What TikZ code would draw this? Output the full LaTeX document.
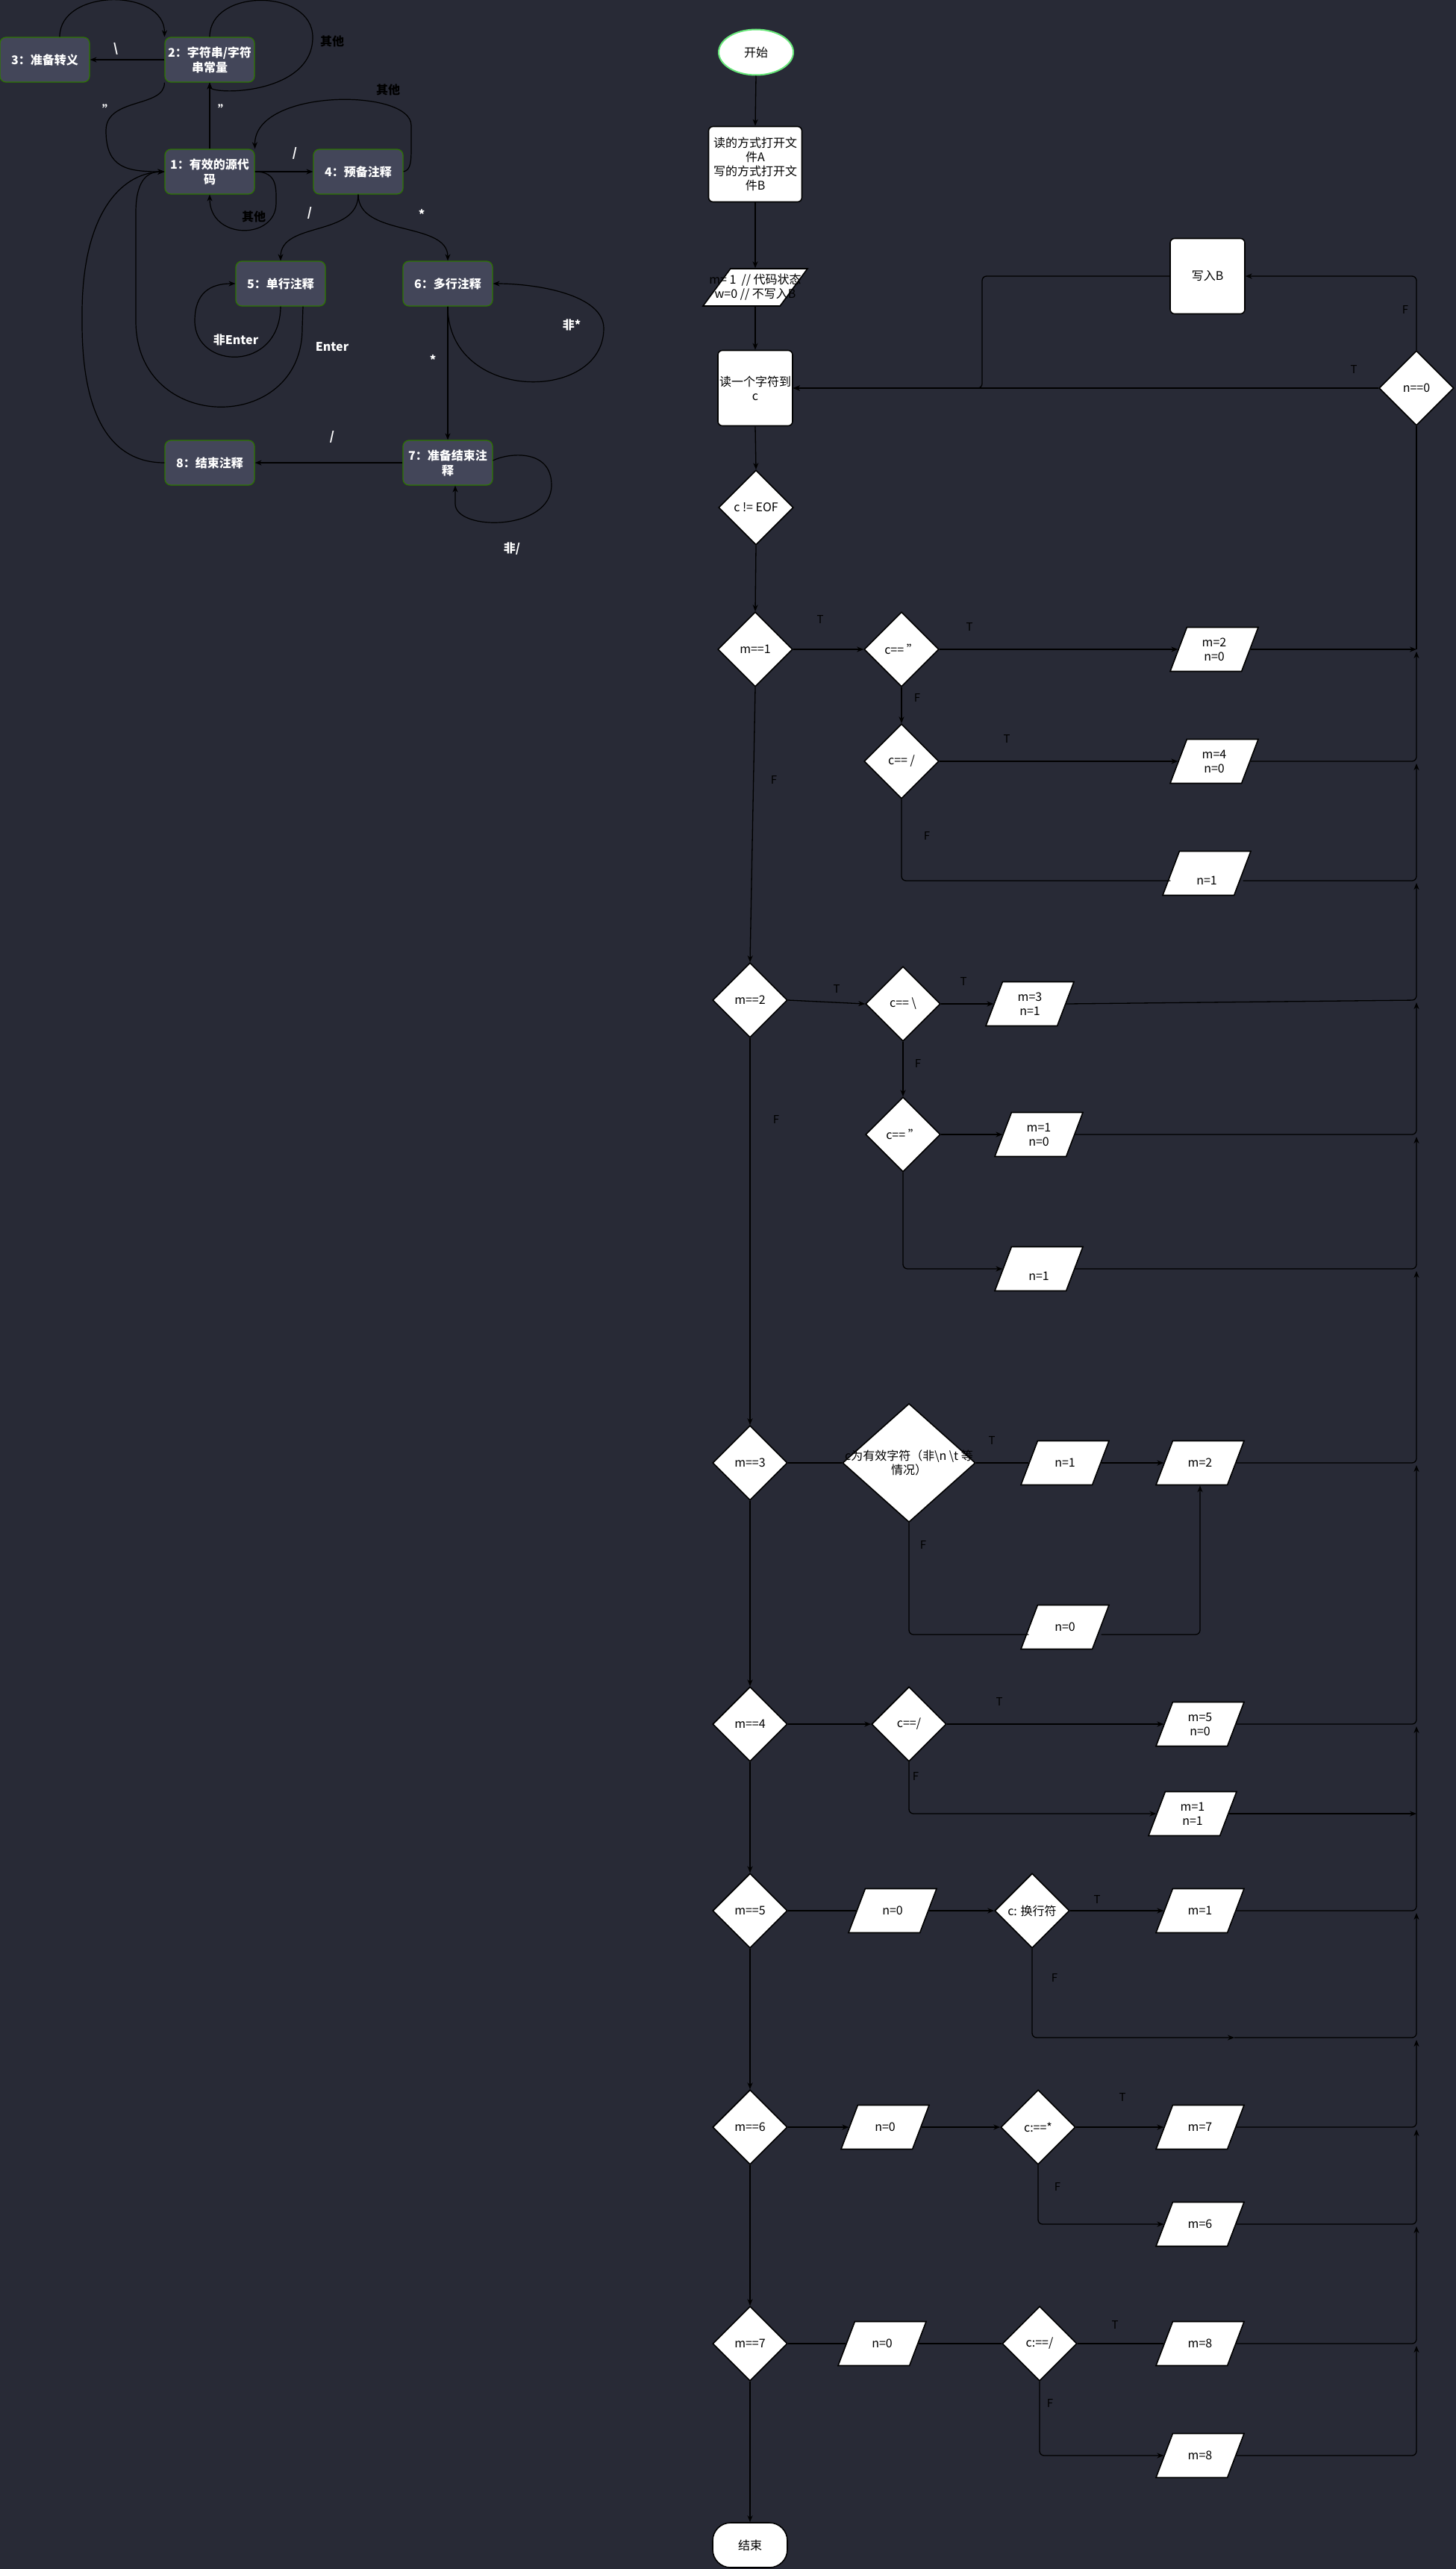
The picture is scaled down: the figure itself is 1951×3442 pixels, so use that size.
\documentclass[tikz,border=0pt]{standalone}
\usepackage{fontspec}
\setmainfont{Noto Sans CJK SC}
\usetikzlibrary{shapes.geometric,arrows.meta}
\definecolor{bg}{RGB}{40,42,54}
\definecolor{smfill}{RGB}{67,70,89}
\definecolor{smborder}{RGB}{45,118,0}
\definecolor{startg}{RGB}{102,230,120}
\begin{document}
\begin{tikzpicture}[x=1pt,y=-1pt,
  txt/.style={text=black, align=center, font=\fontsize{16pt}{19pt}\selectfont, inner sep=0pt},
  dia/.style={diamond, draw=black, fill=white, line width=1.6pt, minimum width=100pt, minimum height=100pt, inner sep=0pt, shape aspect=1},
  para/.style={trapezium, trapezium left angle=73, trapezium right angle=107, trapezium stretches=true, draw=black, fill=white, line width=1.6pt, minimum width=118pt, minimum height=59pt, inner sep=2pt},
  fbox/.style={rectangle, rounded corners=6pt, draw=black, fill=white, line width=1.6pt, minimum width=100pt, minimum height=101pt, inner sep=0pt},
  term/.style={rectangle, rounded corners=24pt, draw=black, fill=white, line width=1.6pt, minimum width=100pt, minimum height=60pt, inner sep=0pt},
  startn/.style={ellipse, draw=startg, fill=white, line width=2pt, minimum width=100pt, minimum height=61pt, inner sep=0pt},
  sm/.style={rectangle, rounded corners=8pt, draw=smborder, fill=smfill, line width=1.2pt, minimum width=120pt, minimum height=60pt, inner sep=0pt, text=white, align=center, font=\bfseries\fontsize{16pt}{20pt}\selectfont},
  wl/.style={text=white, font=\bfseries\fontsize{16pt}{20pt}\selectfont, inner sep=0pt},
  bl/.style={text=black, font=\bfseries\fontsize{16pt}{20pt}\selectfont, inner sep=0pt},
  tf/.style={text=black, font=\fontsize{15pt}{18pt}\selectfont, inner sep=0pt},
  ln/.style={draw=black, line width=1.3pt},
  arr/.style={draw=black, line width=1.3pt, -{Stealth[length=9pt,width=7pt]}},
  sarr/.style={draw=black, line width=1.2pt, -{Stealth[length=9pt,width=7pt]}},
  bus/.style={arr, rounded corners=6pt},
  rln/.style={ln, rounded corners=6pt}]
\useasboundingbox (0,0) rectangle (1951,3442);
\fill[bg] (0,0) rectangle (1951,3442);

% ---------------- state machine ----------------
\node[sm] (n3) at (60,80) {3：准备转义};
\node[sm] (n2) at (281,80) {2：字符串/字符\\串常量};
\node[sm] (n1) at (281,230) {1：有效的源代\\码};
\node[sm] (n4) at (480,230) {4：预备注释};
\node[sm] (n5) at (376,380) {5：单行注释};
\node[sm] (n6) at (600,380) {6：多行注释};
\node[sm] (n8) at (281,620) {8：结束注释};
\node[sm] (n7) at (600,620) {7：准备结束注\\释};

\draw[sarr] ([xshift=20pt]n3.north) .. controls (80,-16) and (221,-16) .. (n2.north west);
\draw[sarr] (n2.west) -- (n3.east);
\draw[sarr] (n2.north) .. controls (281,-16) and (419,-16) .. (419,50) .. controls (419,128) and (281,128) .. (n2.south);
\draw[sarr] (n2.south west) .. controls (221,145) and (142,130) .. (142,175) .. controls (142,225) and (170,230) .. (n1.west);
\draw[sarr] (n1.north) -- (n2.south);
\draw[sarr] (n1.east) -- (n4.west);
\draw[sarr] (n1.east) .. controls (372,230) and (370,252) .. (370,272) .. controls (370,322) and (281,322) .. (n1.south);
\draw[sarr] (n4.east) .. controls (551,228) and (551,215) .. (551,195) -- (551,168) .. controls (551,118) and (340,118) .. (n1.north east);
\draw[sarr] (n4.south) .. controls (480,318) and (376,296) .. (n5.north);
\draw[sarr] (n4.south) .. controls (480,318) and (600,296) .. (n6.north);
\draw[sarr] (n5.south) .. controls (375,500) and (261,495) .. (261,430) .. controls (261,392) and (282,380) .. (n5.west);
\draw[sarr] ([xshift=30pt]n5.south) -- (405,440) .. controls (405,582) and (182,582) .. (182,430) -- (182,285) .. controls (182,245) and (195,230) .. (n1.west);
\draw[sarr] (n8.west) .. controls (150,620) and (110,560) .. (110,433) -- (110,420) .. controls (110,290) and (160,232) .. (n1.west);
\draw[sarr] (n6.south) .. controls (600,540) and (809,540) .. (809,440) .. controls (809,395) and (720,380) .. (n6.east);
\draw[sarr] (n6.south) -- (n7.north);
\draw[sarr] (n7.west) -- (n8.east);
\draw[sarr] ([yshift=3pt]n7.east) .. controls (680,607) and (739,600) .. (739,650) .. controls (739,712) and (610,712) .. (610,675) -- ([xshift=10pt]n7.south);

\node[wl] (l32) at (155,65) {\textbackslash};
\node[bl] (l22) at (445,55) {其他};
\node[wl] (l21) at (145,147) {"};
\node[wl] (l12) at (300,147) {"};
\node[wl] (l14) at (395,205) {/};
\node[bl] (l11) at (340,290) {其他};
\node[bl] (l41) at (520,120) {其他};
\node[wl] (l45) at (415,285) {/};
\node[wl] (l46) at (565,287) {*};
\node[wl] (l55) at (316,455) {非Enter};
\node[wl] (l51) at (445,465) {Enter};
\node[wl] (l66) at (766,435) {非*};
\node[wl] (l67) at (580,482) {*};
\node[wl] (l78) at (445,585) {/};
\node[wl] (l77) at (686,735) {非/};

% ---------------- flowchart ----------------
\node[startn, label={[txt]center:开始}] (start) at (1013,70) {};
\node[fbox, minimum width=125pt, label={[txt]center:{读的方式打开文\\件A\\写的方式打开文\\件B}}] (open) at (1012,220) {};
\node[para, trapezium left angle=61, trapezium right angle=119, minimum width=140pt, minimum height=50pt, label={[txt]center:{m= 1 \ // 代码状态\\w=0 // 不写入B}}] (init) at (1012,385) {};
\node[fbox, label={[txt]center:{读一个字符到\\c}}] (read) at (1012,520) {};
\node[dia, label={[txt]center:{c != EOF}}] (eof) at (1013,680) {};
\node[fbox, label={[txt]center:{写入B}}] (wb) at (1618,370) {};
\node[dia, label={[txt]center:{n==0}}] (nz) at (1898,520) {};

\node[dia, label={[txt]center:{m==1}}] (m1) at (1012,870) {};
\node[dia, label={[txt]center:{c== "}}] (c1a) at (1208,870) {};
\node[para, label={[txt]center:{m=2\\n=0}}] (r1a) at (1627,870) {};
\node[dia, label={[txt]center:{c== /}}] (c1b) at (1208,1020) {};
\node[para, label={[txt]center:{m=4\\n=0}}] (r1b) at (1627,1020) {};
\node[para, label={[txt,yshift=-10pt]center:{n=1}}] (r1c) at (1617,1170) {};

\node[dia, label={[txt]center:{m==2}}] (m2) at (1005,1340) {};
\node[dia, label={[txt]center:{c== \textbackslash}}] (c2a) at (1210,1345) {};
\node[para, label={[txt]center:{m=3\\n=1}}] (r2a) at (1380,1345) {};
\node[dia, label={[txt]center:{c== "}}] (c2b) at (1210,1520) {};
\node[para, label={[txt]center:{m=1\\n=0}}] (r2b) at (1392,1520) {};
\node[para, label={[txt,yshift=-10pt]center:{n=1}}] (r2c) at (1392,1700) {};

\node[dia, label={[txt]center:{m==3}}] (m3) at (1005,1960) {};
\node[dia, minimum width=178pt, minimum height=159pt, label={[txt]center:{c为有效字符（非\textbackslash n \textbackslash t 等\\情况）}}] (c3) at (1218,1960) {};
\node[para, label={[txt]center:{n=1}}] (r3a) at (1427,1960) {};
\node[para, label={[txt]center:{m=2}}] (r3b) at (1608,1960) {};
\node[para, label={[txt]center:{n=0}}] (r3c) at (1427,2180) {};

\node[dia, label={[txt]center:{m==4}}] (m4) at (1005,2310) {};
\node[dia, label={[txt]center:{c==/}}] (c4) at (1218,2310) {};
\node[para, label={[txt]center:{m=5\\n=0}}] (r4a) at (1608,2310) {};
\node[para, label={[txt]center:{m=1\\n=1}}] (r4b) at (1598,2430) {};

\node[dia, label={[txt]center:{m==5}}] (m5) at (1005,2560) {};
\node[para, label={[txt]center:{n=0}}] (n5) at (1196,2560) {};
\node[dia, label={[txt]center:{c: 换行符}}] (c5) at (1383,2560) {};
\node[para, label={[txt]center:{m=1}}] (r5a) at (1608,2560) {};
\coordinate (j5) at (1654,2730);

\node[dia, label={[txt]center:{m==6}}] (m6) at (1005,2850) {};
\node[para, label={[txt]center:{n=0}}] (n6) at (1186,2850) {};
\node[dia, label={[txt]center:{c:==*}}] (c6) at (1391,2850) {};
\node[para, label={[txt]center:{m=7}}] (r6a) at (1608,2850) {};
\node[para, label={[txt]center:{m=6}}] (r6b) at (1608,2980) {};

\node[dia, label={[txt]center:{m==7}}] (m7) at (1005,3140) {};
\node[para, label={[txt]center:{n=0}}] (n7) at (1182,3140) {};
\node[dia, label={[txt]center:{c:==/}}] (c7) at (1393,3140) {};
\node[para, label={[txt]center:{m=8}}] (r7a) at (1608,3140) {};
\node[para, label={[txt]center:{m=8}}] (r7b) at (1608,3290) {};

\node[term, label={[txt]center:结束}] (end) at (1005,3410) {};

% bus coordinates
\coordinate (bA) at (1898,870);
\coordinate (bB) at (1898,1020);
\coordinate (bC) at (1898,1180);
\coordinate (bD) at (1898,1340);
\coordinate (bE) at (1898,1520);
\coordinate (bF) at (1898,1700);
\coordinate (bG) at (1898,1960);
\coordinate (bH) at (1898,2310);
\coordinate (bI) at (1898,2430);
\coordinate (bJ) at (1898,2560);
\coordinate (bK) at (1898,2730);
\coordinate (bL) at (1898,2850);
\coordinate (bM) at (1898,2980);
\coordinate (bN) at (1898,3140);
\coordinate (bO) at (1898,3290);

% main spine
\draw[arr] (start.south) -- (open.north);
\draw[arr] (open.south) -- (init.north);
\draw[arr] (init.south) -- (read.north);
\draw[arr] (read.south) -- (eof.north);
\draw[arr] (eof.south) -- (m1.north);
\draw[arr] (m1.south) -- (m2.north);
\draw[arr] (m2.south) -- (m3.north);
\draw[arr] (m3.south) -- (m4.north);
\draw[arr] (m4.south) -- (m5.north);
\draw[arr] (m5.south) -- (m6.north);
\draw[arr] (m6.south) -- (m7.north);
\draw[arr] (m7.south) -- (end.north);

% n==0 loop
\draw[arr] (nz.west) -- (read.east);
\draw[bus] (nz.north) |- (wb.east);
\draw[bus] (wb.west) -| (1316,520) -- (read.east);
\draw[ln] (nz.south) -- (bA);

% m==1
\draw[arr] (m1.east) -- (c1a.west);
\draw[arr] (c1a.east) -- (r1a.west);
\draw[arr] (c1a.south) -- (c1b.north);
\draw[arr] (c1b.east) -- (r1b.west);
\draw[rln] (c1b.south) |- ([yshift=-10pt]r1c.west);
% m==2
\draw[arr] (m2.east) -- (c2a.west);
\draw[arr] (c2a.east) -- (r2a.west);
\draw[arr] (c2a.south) -- (c2b.north);
\draw[arr] (c2b.east) -- (r2b.west);
\draw[bus] (c2b.south) |- (r2c.west);
% m==3
\draw[ln] (m3.east) -- (c3.west);
\draw[ln] (c3.east) -- (r3a.west);
\draw[arr] (r3a.east) -- (r3b.west);
\draw[rln] (c3.south) |- ([yshift=-10pt]r3c.west);
\draw[bus] ([yshift=-10pt]r3c.east) -| (r3b.south);
% m==4
\draw[arr] (m4.east) -- (c4.west);
\draw[arr] (c4.east) -- (r4a.west);
\draw[bus] (c4.south) |- (r4b.west);
% m==5
\draw[ln] (m5.east) -- (n5.west);
\draw[arr] (n5.east) -- (c5.west);
\draw[arr] (c5.east) -- (r5a.west);
\draw[bus] (c5.south) |- (j5);
% m==6
\draw[arr] (m6.east) -- (n6.west);
\draw[arr] (n6.east) -- (c6.west);
\draw[arr] (c6.east) -- (r6a.west);
\draw[bus] (c6.south) |- (r6b.west);
% m==7
\draw[ln] (m7.east) -- (n7.west);
\draw[ln] (n7.east) -- (c7.west);
\draw[ln] (c7.east) -- (r7a.west);
\draw[bus] (c7.south) |- (r7b.west);

% returns to the bus
\draw[arr] (r1a.east) -- (bA);
\draw[bus] (r1b.east) -- (bB) -- ([yshift=-3pt]bA);
\draw[bus] ([yshift=-10pt]r1c.east) -- (bC) -- ([yshift=-3pt]bB);
\draw[bus] (r2a.east) -- (bD) -- ([yshift=-3pt]bC);
\draw[bus] (r2b.east) -- (bE) -- ([yshift=-3pt]bD);
\draw[bus] (r2c.east) -- (bF) -- ([yshift=-3pt]bE);
\draw[bus] (r3b.east) -- (bG) -- ([yshift=-3pt]bF);
\draw[bus] (r4a.east) -- (bH) -- ([yshift=-3pt]bG);
\draw[arr] (r4b.east) -- (bI);
\draw[bus] (r5a.east) -- (bJ) -- ([yshift=-3pt]bH);
\draw[bus] (j5) -- (bK) -- ([yshift=-3pt]bJ);
\draw[bus] (r6a.east) -- (bL) -- ([yshift=-3pt]bK);
\draw[bus] (r6b.east) -- (bM) -- ([yshift=-3pt]bL);
\draw[bus] (r7a.east) -- (bN) -- ([yshift=-3pt]bM);
\draw[bus] (r7b.east) -- (bO) -- ([yshift=-3pt]bN);

% T / F labels
\node[tf] (tnz) at (1814,495) {T};
\node[tf] (fnz) at (1883,415) {F};
\node[tf] (t1) at (1099,830) {T};
\node[tf] (t1a) at (1299,840) {T};
\node[tf] (f1a) at (1229,935) {F};
\node[tf] (t1b) at (1349,990) {T};
\node[tf] (f1b) at (1242,1120) {F};
\node[tf] (f1) at (1037,1045) {F};
\node[tf] (t2) at (1121,1325) {T};
\node[tf] (t2a) at (1291,1315) {T};
\node[tf] (f2a) at (1230,1425) {F};
\node[tf] (f2) at (1040,1500) {F};
\node[tf] (t3) at (1329,1930) {T};
\node[tf] (f3) at (1237,2070) {F};
\node[tf] (t4) at (1339,2280) {T};
\node[tf] (f4) at (1227,2380) {F};
\node[tf] (t5) at (1470,2545) {T};
\node[tf] (f5) at (1413,2650) {F};
\node[tf] (t6) at (1504,2810) {T};
\node[tf] (f6) at (1417,2930) {F};
\node[tf] (t7) at (1494,3115) {T};
\node[tf] (f7) at (1407,3220) {F};
\end{tikzpicture}
\end{document}
